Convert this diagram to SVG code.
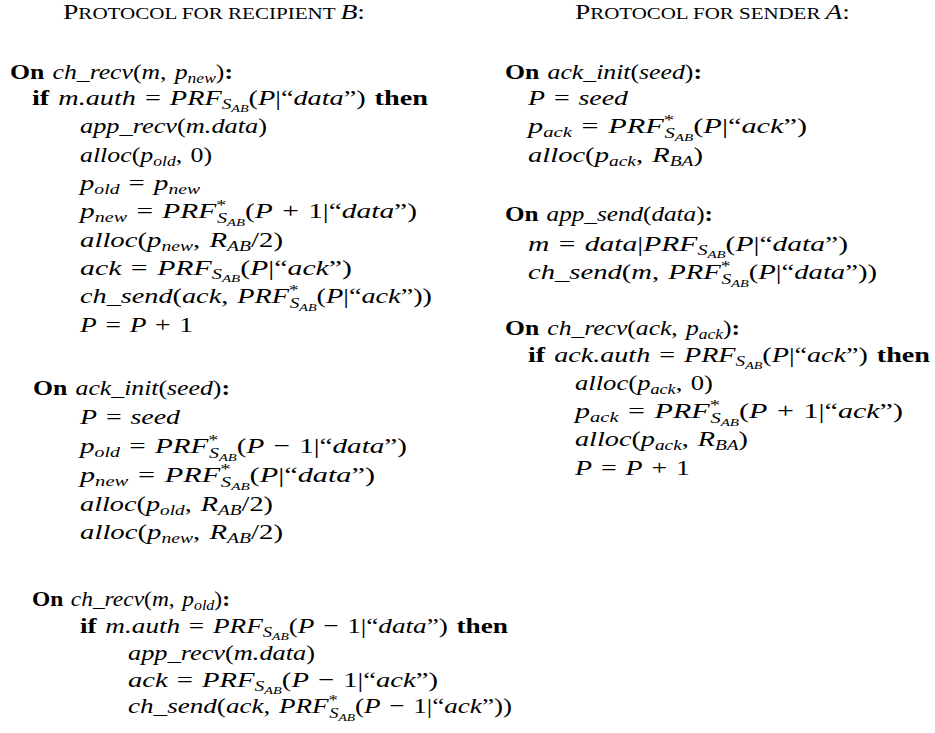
<svg xmlns="http://www.w3.org/2000/svg" width="935" height="733" viewBox="0 0 935 733">
<style>
text { font-family: "Liberation Serif", "Times New Roman", serif; font-size: 22px; fill: #000; word-spacing: 1.5px; }
.b { font-weight: bold; }
.i { font-style: italic; }
.s { font-size: 15px; }
.ss { font-size: 11px; }
.sc { font-size: 16px; }
.cap { font-size: 21px; }
.title { word-spacing: 0; }
</style>
<rect width="935" height="733" fill="#fff"/>

<g id="title-recipient">
<text class="title" x="63" y="19" textLength="302" lengthAdjust="spacingAndGlyphs"><tspan class="cap">P</tspan><tspan class="sc">ROTOCOL FOR RECIPIENT </tspan><tspan class="cap i">B</tspan><tspan class="cap">:</tspan></text>
</g>

<g id="b-on-ch-recv-new">
<text x="10" y="79" textLength="223" lengthAdjust="spacingAndGlyphs"><tspan class="b">On </tspan><tspan class="i">ch_recv</tspan>(<tspan class="i">m</tspan>, <tspan class="i">p</tspan><tspan class="s i" dy="4">new</tspan><tspan dy="-4">)</tspan><tspan class="b">:</tspan></text>
<text x="32" y="105" textLength="396" lengthAdjust="spacingAndGlyphs"><tspan class="b">if </tspan><tspan class="i">m.auth</tspan> = <tspan class="i">PRF</tspan><tspan class="s i" dy="4">S</tspan><tspan class="ss i" dy="3">AB</tspan><tspan dy="-7">(</tspan><tspan class="i">P</tspan>|“<tspan class="i">data</tspan>”) <tspan class="b">then</tspan></text>
<text x="80" y="133" textLength="187" lengthAdjust="spacingAndGlyphs"><tspan class="i">app_recv</tspan>(<tspan class="i">m.data</tspan>)</text>
<text x="80" y="162" textLength="132" lengthAdjust="spacingAndGlyphs"><tspan class="i">alloc</tspan>(<tspan class="i">p</tspan><tspan class="s i" dy="4">old</tspan><tspan dy="-4">, 0)</tspan></text>
<text x="80" y="190" textLength="120" lengthAdjust="spacingAndGlyphs"><tspan class="i">p</tspan><tspan class="s i" dy="4">old</tspan><tspan dy="-4"> = </tspan><tspan class="i">p</tspan><tspan class="s i" dy="4">new</tspan></text>
<text x="80" y="218" textLength="337" lengthAdjust="spacingAndGlyphs"><tspan class="i">p</tspan><tspan class="s i" dy="4">new</tspan><tspan dy="-4"> = </tspan><tspan class="i">PRF</tspan><tspan class="s" dy="-8">*</tspan><tspan class="s i" dx="-7" dy="13">S</tspan><tspan class="ss i" dy="3">AB</tspan><tspan dy="-8">(</tspan><tspan class="i">P</tspan> + 1|“<tspan class="i">data</tspan>”)</text>
<text x="80" y="247" textLength="203" lengthAdjust="spacingAndGlyphs"><tspan class="i">alloc</tspan>(<tspan class="i">p</tspan><tspan class="s i" dy="4">new</tspan><tspan dy="-4">, </tspan><tspan class="i">R</tspan><tspan class="s i" dy="4">AB</tspan><tspan dy="-4">/2)</tspan></text>
<text x="80" y="275" textLength="272" lengthAdjust="spacingAndGlyphs"><tspan class="i">ack</tspan> = <tspan class="i">PRF</tspan><tspan class="s i" dy="4">S</tspan><tspan class="ss i" dy="3">AB</tspan><tspan dy="-7">(</tspan><tspan class="i">P</tspan>|“<tspan class="i">ack</tspan>”)</text>
<text x="80" y="303" textLength="352" lengthAdjust="spacingAndGlyphs"><tspan class="i">ch_send</tspan>(<tspan class="i">ack</tspan>, <tspan class="i">PRF</tspan><tspan class="s" dy="-8">*</tspan><tspan class="s i" dx="-7" dy="13">S</tspan><tspan class="ss i" dy="3">AB</tspan><tspan dy="-8">(</tspan><tspan class="i">P</tspan>|“<tspan class="i">ack</tspan>”))</text>
<text x="80" y="332" textLength="113" lengthAdjust="spacingAndGlyphs"><tspan class="i">P</tspan> = <tspan class="i">P</tspan> + 1</text>
</g>

<g id="b-on-ack-init">
<text x="33" y="395" textLength="197" lengthAdjust="spacingAndGlyphs"><tspan class="b">On </tspan><tspan class="i">ack_init</tspan>(<tspan class="i">seed</tspan>)<tspan class="b">:</tspan></text>
<text x="80" y="424" textLength="100" lengthAdjust="spacingAndGlyphs"><tspan class="i">P</tspan> = <tspan class="i">seed</tspan></text>
<text x="80" y="453" textLength="327" lengthAdjust="spacingAndGlyphs"><tspan class="i">p</tspan><tspan class="s i" dy="4">old</tspan><tspan dy="-4"> = </tspan><tspan class="i">PRF</tspan><tspan class="s" dy="-8">*</tspan><tspan class="s i" dx="-7" dy="13">S</tspan><tspan class="ss i" dy="3">AB</tspan><tspan dy="-8">(</tspan><tspan class="i">P</tspan> − 1|“<tspan class="i">data</tspan>”)</text>
<text x="80" y="482" textLength="295" lengthAdjust="spacingAndGlyphs"><tspan class="i">p</tspan><tspan class="s i" dy="4">new</tspan><tspan dy="-4"> = </tspan><tspan class="i">PRF</tspan><tspan class="s" dy="-8">*</tspan><tspan class="s i" dx="-7" dy="13">S</tspan><tspan class="ss i" dy="3">AB</tspan><tspan dy="-8">(</tspan><tspan class="i">P</tspan>|“<tspan class="i">data</tspan>”)</text>
<text x="80" y="511" textLength="193" lengthAdjust="spacingAndGlyphs"><tspan class="i">alloc</tspan>(<tspan class="i">p</tspan><tspan class="s i" dy="4">old</tspan><tspan dy="-4">, </tspan><tspan class="i">R</tspan><tspan class="s i" dy="4">AB</tspan><tspan dy="-4">/2)</tspan></text>
<text x="80" y="539" textLength="203" lengthAdjust="spacingAndGlyphs"><tspan class="i">alloc</tspan>(<tspan class="i">p</tspan><tspan class="s i" dy="4">new</tspan><tspan dy="-4">, </tspan><tspan class="i">R</tspan><tspan class="s i" dy="4">AB</tspan><tspan dy="-4">/2)</tspan></text>
</g>

<g id="b-on-ch-recv-old">
<text x="32" y="606" textLength="198" lengthAdjust="spacingAndGlyphs"><tspan class="b">On </tspan><tspan class="i">ch_recv</tspan>(<tspan class="i">m</tspan>, <tspan class="i">p</tspan><tspan class="s i" dy="4">old</tspan><tspan dy="-4">)</tspan><tspan class="b">:</tspan></text>
<text x="80" y="633" textLength="428" lengthAdjust="spacingAndGlyphs"><tspan class="b">if </tspan><tspan class="i">m.auth</tspan> = <tspan class="i">PRF</tspan><tspan class="s i" dy="4">S</tspan><tspan class="ss i" dy="3">AB</tspan><tspan dy="-7">(</tspan><tspan class="i">P</tspan> − 1|“<tspan class="i">data</tspan>”) <tspan class="b">then</tspan></text>
<text x="128" y="660" textLength="187" lengthAdjust="spacingAndGlyphs"><tspan class="i">app_recv</tspan>(<tspan class="i">m.data</tspan>)</text>
<text x="128" y="687" textLength="310" lengthAdjust="spacingAndGlyphs"><tspan class="i">ack</tspan> = <tspan class="i">PRF</tspan><tspan class="s i" dy="4">S</tspan><tspan class="ss i" dy="3">AB</tspan><tspan dy="-7">(</tspan><tspan class="i">P</tspan> − 1|“<tspan class="i">ack</tspan>”)</text>
<text x="128" y="713" textLength="384" lengthAdjust="spacingAndGlyphs"><tspan class="i">ch_send</tspan>(<tspan class="i">ack</tspan>, <tspan class="i">PRF</tspan><tspan class="s" dy="-8">*</tspan><tspan class="s i" dx="-7" dy="13">S</tspan><tspan class="ss i" dy="3">AB</tspan><tspan dy="-8">(</tspan><tspan class="i">P</tspan> − 1|“<tspan class="i">ack</tspan>”))</text>
</g>

<g id="title-sender">
<text class="title" x="575" y="19" textLength="275" lengthAdjust="spacingAndGlyphs"><tspan class="cap">P</tspan><tspan class="sc">ROTOCOL FOR SENDER </tspan><tspan class="cap i">A</tspan><tspan class="cap">:</tspan></text>
</g>

<g id="a-on-ack-init">
<text x="505" y="79" textLength="197" lengthAdjust="spacingAndGlyphs"><tspan class="b">On </tspan><tspan class="i">ack_init</tspan>(<tspan class="i">seed</tspan>)<tspan class="b">:</tspan></text>
<text x="528" y="105" textLength="100" lengthAdjust="spacingAndGlyphs"><tspan class="i">P</tspan> = <tspan class="i">seed</tspan></text>
<text x="528" y="133" textLength="279" lengthAdjust="spacingAndGlyphs"><tspan class="i">p</tspan><tspan class="s i" dy="4">ack</tspan><tspan dy="-4"> = </tspan><tspan class="i">PRF</tspan><tspan class="s" dy="-8">*</tspan><tspan class="s i" dx="-7" dy="13">S</tspan><tspan class="ss i" dy="3">AB</tspan><tspan dy="-8">(</tspan><tspan class="i">P</tspan>|“<tspan class="i">ack</tspan>”)</text>
<text x="528" y="162" textLength="175" lengthAdjust="spacingAndGlyphs"><tspan class="i">alloc</tspan>(<tspan class="i">p</tspan><tspan class="s i" dy="4">ack</tspan><tspan dy="-4">, </tspan><tspan class="i">R</tspan><tspan class="s i" dy="4">BA</tspan><tspan dy="-4">)</tspan></text>
</g>

<g id="a-on-app-send">
<text x="505" y="221" textLength="208" lengthAdjust="spacingAndGlyphs"><tspan class="b">On </tspan><tspan class="i">app_send</tspan>(<tspan class="i">data</tspan>)<tspan class="b">:</tspan></text>
<text x="528" y="251" textLength="320" lengthAdjust="spacingAndGlyphs"><tspan class="i">m</tspan> = <tspan class="i">data</tspan>|<tspan class="i">PRF</tspan><tspan class="s i" dy="4">S</tspan><tspan class="ss i" dy="3">AB</tspan><tspan dy="-7">(</tspan><tspan class="i">P</tspan>|“<tspan class="i">data</tspan>”)</text>
<text x="528" y="279" textLength="349" lengthAdjust="spacingAndGlyphs"><tspan class="i">ch_send</tspan>(<tspan class="i">m</tspan>, <tspan class="i">PRF</tspan><tspan class="s" dy="-8">*</tspan><tspan class="s i" dx="-7" dy="13">S</tspan><tspan class="ss i" dy="3">AB</tspan><tspan dy="-8">(</tspan><tspan class="i">P</tspan>|“<tspan class="i">data</tspan>”))</text>
</g>

<g id="a-on-ch-recv">
<text x="505" y="335" textLength="235" lengthAdjust="spacingAndGlyphs"><tspan class="b">On </tspan><tspan class="i">ch_recv</tspan>(<tspan class="i">ack</tspan>, <tspan class="i">p</tspan><tspan class="s i" dy="4">ack</tspan><tspan dy="-4">)</tspan><tspan class="b">:</tspan></text>
<text x="528" y="362" textLength="402" lengthAdjust="spacingAndGlyphs"><tspan class="b">if </tspan><tspan class="i">ack.auth</tspan> = <tspan class="i">PRF</tspan><tspan class="s i" dy="4">S</tspan><tspan class="ss i" dy="3">AB</tspan><tspan dy="-7">(</tspan><tspan class="i">P</tspan>|“<tspan class="i">ack</tspan>”) <tspan class="b">then</tspan></text>
<text x="575" y="390" textLength="138" lengthAdjust="spacingAndGlyphs"><tspan class="i">alloc</tspan>(<tspan class="i">p</tspan><tspan class="s i" dy="4">ack</tspan><tspan dy="-4">, 0)</tspan></text>
<text x="575" y="418" textLength="328" lengthAdjust="spacingAndGlyphs"><tspan class="i">p</tspan><tspan class="s i" dy="4">ack</tspan><tspan dy="-4"> = </tspan><tspan class="i">PRF</tspan><tspan class="s" dy="-8">*</tspan><tspan class="s i" dx="-7" dy="13">S</tspan><tspan class="ss i" dy="3">AB</tspan><tspan dy="-8">(</tspan><tspan class="i">P</tspan> + 1|“<tspan class="i">ack</tspan>”)</text>
<text x="575" y="446" textLength="173" lengthAdjust="spacingAndGlyphs"><tspan class="i">alloc</tspan>(<tspan class="i">p</tspan><tspan class="s i" dy="4">ack</tspan><tspan dy="-4">, </tspan><tspan class="i">R</tspan><tspan class="s i" dy="4">BA</tspan><tspan dy="-4">)</tspan></text>
<text x="575" y="475" textLength="115" lengthAdjust="spacingAndGlyphs"><tspan class="i">P</tspan> = <tspan class="i">P</tspan> + 1</text>
</g>
</svg>
